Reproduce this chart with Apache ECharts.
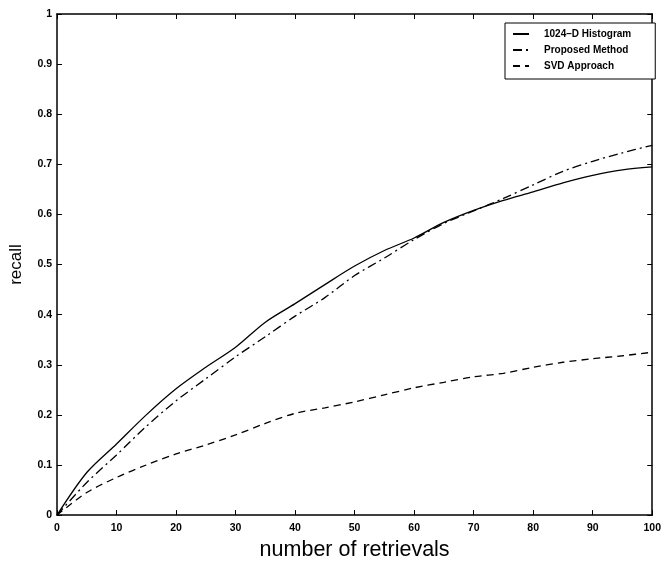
<!DOCTYPE html>
<html>
<head>
<meta charset="utf-8">
<script src="https://cdn.jsdelivr.net/npm/echarts@6/dist/echarts.min.js"></script>
<style>html,body{margin:0;padding:0;background:#fff}#c{width:664px;height:566px}</style>
</head>
<body>
<div id="c"></div>
<script>
const retrievals = [0,5,10,15,20,25,30,35,40,45,50,55,60,65,70,75,80,85,90,95,100];
const histogram1024 = [0,0.085,0.142,0.2,0.252,0.295,0.335,0.385,0.422,0.46,0.497,0.528,0.553,0.584,0.608,0.628,0.645,0.663,0.678,0.689,0.695];
const proposed = [0,0.065,0.12,0.177,0.228,0.272,0.316,0.356,0.397,0.434,0.478,0.513,0.55,0.582,0.607,0.632,0.659,0.686,0.706,0.723,0.738];
const svd = [0,0.045,0.075,0.1,0.122,0.14,0.16,0.183,0.203,0.214,0.226,0.24,0.254,0.265,0.276,0.283,0.295,0.305,0.312,0.318,0.325];
const seriesNames = ['1024\u2013D Histogram','Proposed Method','SVD Approach'];
const xTicks = [0,10,20,30,40,50,60,70,80,90,100];
const yTicks = [0,0.1,0.2,0.3,0.4,0.5,0.6,0.7,0.8,0.9,1];

const pairs = arr => retrievals.map((x,i)=>[x,arr[i]]);
const tickFont = {fontFamily:'Liberation Sans, Arial, sans-serif', fontWeight:'bold', fontSize:10.5, color:'#000'};
const chart = echarts.init(document.getElementById('c'), null, {renderer:'canvas'});
const lineStyle = (type) => ({color:'#000', width:1.3, type:type});
const tickIn = {show:true, inside:true, length:5, lineStyle:{color:'#000', width:1}};
chart.setOption({
  animation:false,
  backgroundColor:'#fff',
  grid:{left:56, right:8, top:14, bottom:50},
  legend:{
    left:505, top:23, orient:'vertical',
    backgroundColor:'#fff',
    borderColor:'#000', borderWidth:1, borderRadius:0,
    padding:[6,24,8,7],
    itemGap:6, itemWidth:16, itemHeight:12,
    itemStyle:{opacity:0},
    textStyle:{fontFamily:'Liberation Sans Narrow, Arial Narrow, sans-serif', fontWeight:'bold', fontSize:10, color:'#000', padding:[0,0,0,10]},
    data:seriesNames
  },
  xAxis:[{
    type:'value', min:0, max:100, interval:10,
    name:'number of retrievals', nameLocation:'middle', nameGap:22,
    nameTextStyle:{fontFamily:'Liberation Sans, Arial, sans-serif', fontSize:21.5, color:'#000'},
    axisLine:{show:true, onZero:false, lineStyle:{color:'#000', width:1.5}},
    axisTick:tickIn,
    axisLabel:Object.assign({margin:8, formatter:v=>String(v)}, tickFont),
    splitLine:{show:false}
  },{
    type:'value', min:0, max:100, interval:10, position:'top',
    axisLine:{show:true, onZero:false, lineStyle:{color:'#000', width:1.5}},
    axisTick:tickIn,
    axisLabel:{show:false}, splitLine:{show:false}
  }],
  yAxis:[{
    type:'value', min:0, max:1, interval:0.1,
    name:'recall', nameLocation:'middle', nameGap:32,
    nameTextStyle:{fontFamily:'Liberation Sans, Arial, sans-serif', fontSize:17, color:'#000'},
    axisLine:{show:true, onZero:false, lineStyle:{color:'#000', width:1.5}},
    axisTick:tickIn,
    axisLabel:Object.assign({margin:5, formatter:v=>String(+(+v).toFixed(1))}, tickFont),
    splitLine:{show:false}
  },{
    type:'value', min:0, max:1, interval:0.1, position:'right',
    axisLine:{show:true, onZero:false, lineStyle:{color:'#000', width:1.5}},
    axisTick:tickIn,
    axisLabel:{show:false}, splitLine:{show:false}
  }],
  series:[
    {name:seriesNames[0], type:'line', data:pairs(histogram1024), showSymbol:false, symbol:'none', smooth:0.3, lineStyle:lineStyle('solid'), itemStyle:{color:'#000'}},
    {name:seriesNames[1], type:'line', data:pairs(proposed), showSymbol:false, symbol:'none', smooth:0.3, lineStyle:lineStyle([9,4,2,4]), itemStyle:{color:'#000'}},
    {name:seriesNames[2], type:'line', data:pairs(svd), showSymbol:false, symbol:'none', smooth:0.3, lineStyle:lineStyle([7,5]), itemStyle:{color:'#000'}}
  ]
});
</script>
</body>
</html>
